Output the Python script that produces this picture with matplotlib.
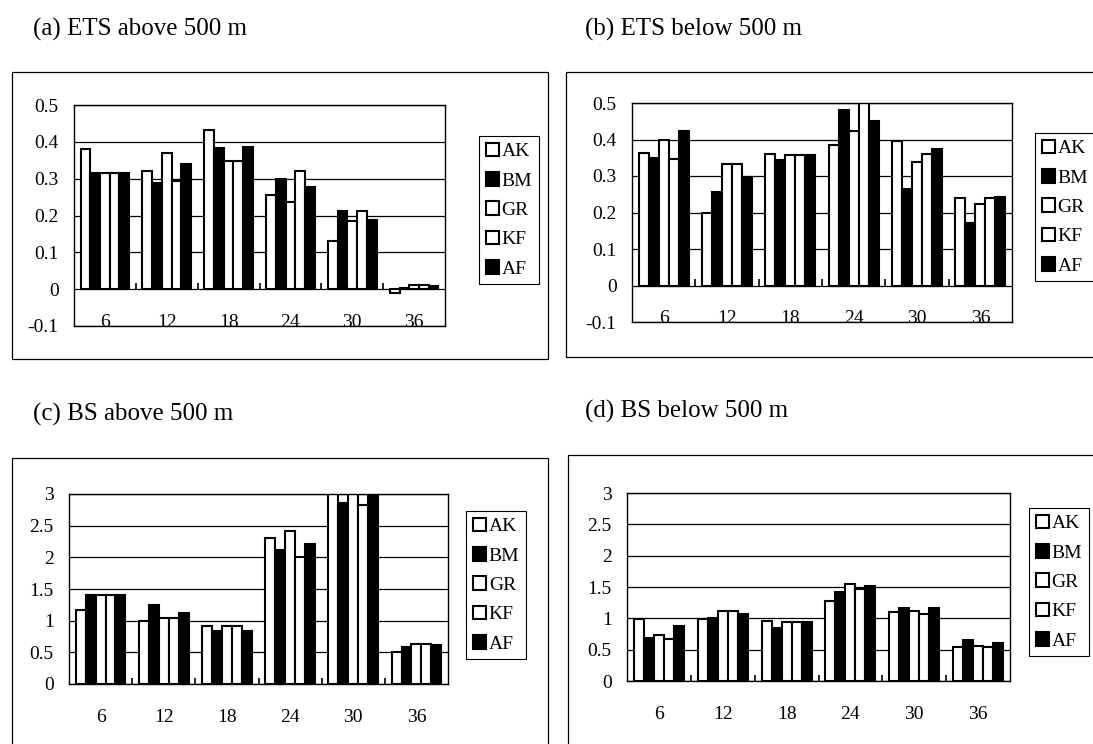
import numpy as np
import matplotlib
matplotlib.use('Agg')
import matplotlib.pyplot as plt
from matplotlib.patches import Rectangle

plt.rcParams['font.family'] = ['Liberation Serif', 'DejaVu Serif']

W, H = 1093, 744

# data (rows: AK, BM, GR, KF, AF; columns: forecast hours)
hours = ['6', '12', '18', '24', '30', '36']
models = ['AK', 'BM', 'GR', 'KF', 'AF']
fills = ['white', 'black', 'white', 'white', 'black']

ets_above = [
    [0.380, 0.322, 0.433, 0.256, 0.130, -0.011],
    [0.316, 0.288, 0.383, 0.299, 0.212, 0.003],
    [0.316, 0.369, 0.348, 0.238, 0.185, 0.010],
    [0.316, 0.295, 0.348, 0.322, 0.212, 0.010],
    [0.316, 0.339, 0.385, 0.277, 0.187, 0.008],
]
ets_below = [
    [0.363, 0.199, 0.359, 0.386, 0.395, 0.239],
    [0.349, 0.255, 0.343, 0.480, 0.265, 0.170],
    [0.398, 0.334, 0.358, 0.423, 0.338, 0.222],
    [0.347, 0.334, 0.358, 0.550, 0.359, 0.239],
    [0.422, 0.297, 0.358, 0.451, 0.374, 0.242],
]
bs_above = [
    [1.17, 0.99, 0.91, 2.31, 3.25, 0.50],
    [1.40, 1.25, 0.83, 2.12, 2.86, 0.59],
    [1.40, 1.05, 0.91, 2.41, 3.05, 0.63],
    [1.40, 1.05, 0.91, 2.00, 2.83, 0.63],
    [1.40, 1.12, 0.84, 2.21, 3.05, 0.62],
]
bs_below = [
    [0.99, 0.99, 0.95, 1.28, 1.10, 0.54],
    [0.68, 1.00, 0.84, 1.42, 1.16, 0.65],
    [0.74, 1.12, 0.94, 1.55, 1.11, 0.56],
    [0.67, 1.12, 0.94, 1.47, 1.07, 0.54],
    [0.87, 1.07, 0.94, 1.51, 1.16, 0.60],
]

ets_ticks = [-0.1, 0, 0.1, 0.2, 0.3, 0.4, 0.5]
ets_labels = ['-0.1', '0', '0.1', '0.2', '0.3', '0.4', '0.5']
bs_ticks = [0, 0.5, 1, 1.5, 2, 2.5, 3]
bs_labels = ['0', '0.5', '1', '1.5', '2', '2.5', '3']


def fig_rect(x0, y0, x1, y1):
    # pixel box (top-left origin) -> figure fraction
    return [x0 / W, 1 - y1 / H, (x1 - x0) / W, (y1 - y0) / H]


def draw_panel(fig, title, title_pos, box, plot, legend_pos, values, yticks, ylabels, labels_inside):
    fig.text(title_pos[0] / W, 1 - title_pos[1] / H, title, fontsize=18, va='center')

    r = fig_rect(*box)
    fig.add_artist(Rectangle((r[0], r[1]), r[2], r[3], transform=fig.transFigure,
                             fill=False, ec='black', lw=0.9))

    ax = fig.add_axes(fig_rect(*plot))
    x = np.arange(len(hours))
    width = 0.157
    for i, (name, vals) in enumerate(zip(models, values)):
        ax.bar(x + (i - 2) * width, vals, width, color=fills[i], edgecolor='black',
               linewidth=1.5, label=name, zorder=2)

    ymin, ymax = yticks[0], yticks[-1]
    ax.set_xlim(-0.5, len(hours) - 0.5)
    ax.set_ylim(ymin, ymax)
    ax.set_yticks(yticks, ylabels)
    ax.yaxis.grid(True, color='black', linewidth=0.9)
    ax.set_axisbelow(True)
    ax.tick_params(axis='y', length=0, pad=11, labelsize=14)
    for s in ax.spines.values():
        s.set_linewidth(1.0)

    # small category ticks sitting on the zero line
    ax.vlines(x[1:] - 0.5, 0, 0.03 * (ymax - ymin), color='black', lw=1.2, zorder=3)

    if labels_inside:
        ax.set_xticks([])
        for xi, lab in zip(x, hours):
            ax.text(xi, ymin - 0.004, lab, ha='center', va='baseline', fontsize=14)
    else:
        ax.set_xticks(x, hours)
        ax.tick_params(axis='x', length=0, pad=18, labelsize=14)

    ax.legend(loc='upper left', bbox_to_anchor=(legend_pos[0] / W, 1 - legend_pos[1] / H),
              bbox_transform=fig.transFigure, borderaxespad=0, fancybox=False,
              edgecolor='black', framealpha=1, fontsize=14, handlelength=0.7,
              handleheight=0.7, handletextpad=0.12, labelspacing=0.6, borderpad=0.35)
    ax.get_legend().get_frame().set_linewidth(0.8)
    return ax


fig = plt.figure(figsize=(W / 100, H / 100), dpi=100)

draw_panel(fig, '(a) ETS above 500 m', (33, 29), (12, 72, 548, 359), (74, 105, 445, 326),
           (479, 136), ets_above, ets_ticks, ets_labels, True)
draw_panel(fig, '(b) ETS below 500 m', (585, 29), (566, 72, 1100, 357), (632, 103, 1012, 322),
           (1035, 133), ets_below, ets_ticks, ets_labels, True)
draw_panel(fig, '(c) BS above 500 m', (33, 414), (12, 458, 548, 760), (69, 494, 448, 684),
           (466, 511), bs_above, bs_ticks, bs_labels, False)
draw_panel(fig, '(d) BS below 500 m', (585, 411), (568, 455, 1100, 760), (627, 493, 1010, 681),
           (1029, 508), bs_below, bs_ticks, bs_labels, False)

fig.savefig('out.png', dpi=100)
